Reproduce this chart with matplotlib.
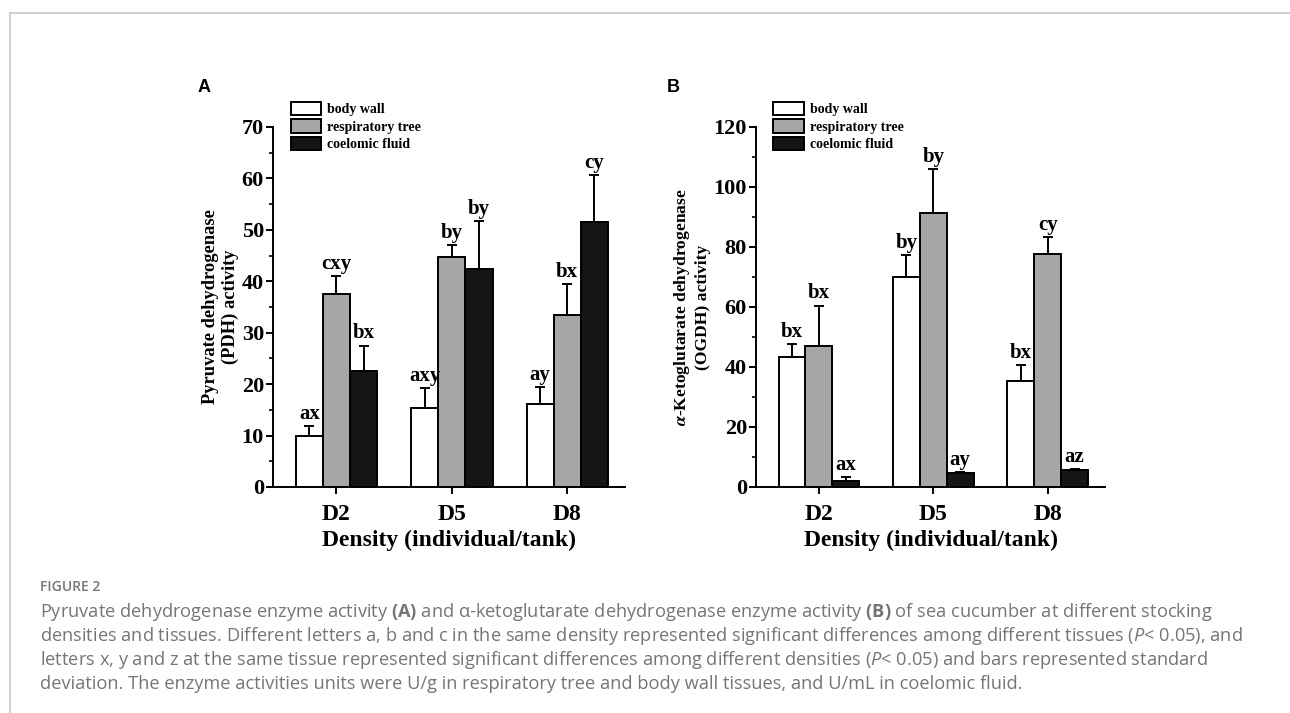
import numpy as np
import matplotlib.pyplot as plt
from matplotlib.lines import Line2D

plt.rcParams['mathtext.fontset'] = 'custom'
plt.rcParams['mathtext.rm'] = 'Open Sans'
plt.rcParams['mathtext.it'] = 'Open Sans:italic'
plt.rcParams['mathtext.bf'] = 'Open Sans:bold'

SERIF = 'Liberation Serif'

densities = ['D2', 'D5', 'D8']
tissues = ['body wall', 'respiratory tree', 'coelomic fluid']

# PDH activity (panel A), rows = tissue, cols = density
pdh_mean = [[10.0, 15.3, 16.2],
            [37.5, 44.8, 33.4],
            [22.5, 42.4, 51.6]]
pdh_sd = [[1.8, 3.9, 3.2],
          [3.5, 2.3, 6.0],
          [5.0, 9.4, 9.1]]
pdh_letters = [['ax', 'axy', 'ay'],
               ['cxy', 'by', 'bx'],
               ['bx', 'by', 'cy']]

# OGDH activity (panel B)
ogdh_mean = [[43.2, 70.0, 35.5],
             [46.9, 91.2, 77.7],
             [2.0, 4.7, 5.8]]
ogdh_sd = [[4.5, 7.2, 5.3],
           [13.6, 14.9, 5.7],
           [1.2, 0.3, 0.3]]
ogdh_letters = [['bx', 'by', 'bx'],
                ['bx', 'by', 'cy'],
                ['ax', 'ay', 'az']]

bar_colors = ['white', '#a6a6a6', '#151515']


def draw_panel(ax, means, sds, letters, ymax, ystep, ylabel, label_x, label_size):
    x = np.arange(1, len(densities) + 1)
    w = 0.235
    for i, tissue in enumerate(tissues):
        pos = x + (i - 1) * w
        m = np.array(means[i])
        e = np.array(sds[i])
        ax.bar(pos, m, width=w, color=bar_colors[i], edgecolor='black',
               linewidth=1.4, label=tissue, zorder=2)
        ax.errorbar(pos, m, yerr=[np.zeros_like(e), e], fmt='none',
                    ecolor='black', elinewidth=1.4, capsize=3.5,
                    capthick=1.4, zorder=3)
        for px, top, txt in zip(pos, m + e, letters[i]):
            ax.annotate(txt, (px, top), xytext=(0, 1.5),
                        textcoords='offset points', ha='center', va='bottom',
                        fontsize=15, fontweight='bold', family=SERIF)

    ax.set_xlim(0.45, 3.5)
    ax.set_ylim(0, ymax)
    ax.set_xticks(x)
    ax.set_xticklabels(densities, fontsize=17, fontweight='bold', family=SERIF)
    ax.set_yticks(np.arange(0, ymax + 1, ystep))
    ax.set_yticks(np.arange(ystep / 2, ymax, ystep), minor=True)
    for lab in ax.get_yticklabels():
        lab.set_fontsize(16)
        lab.set_fontweight('bold')
        lab.set_family(SERIF)
    ax.tick_params(axis='both', which='major', direction='out', length=5,
                   width=1.4, pad=1.5)
    ax.tick_params(axis='y', which='minor', direction='out', length=3,
                   width=1.2)
    ax.tick_params(axis='x', which='major', pad=7)
    for side in ['top', 'right']:
        ax.spines[side].set_visible(False)
    for side in ['left', 'bottom']:
        ax.spines[side].set_linewidth(1.4)

    ax.set_xlabel('Density (individual/tank)', fontsize=17,
                  fontweight='bold', family=SERIF, labelpad=4)
    ax.set_ylabel(ylabel, fontsize=label_size, fontweight='bold', family=SERIF,
                  linespacing=1.2, math_fontfamily='stix')
    ax.yaxis.set_label_coords(label_x, 0.5)

    ax.legend(loc='upper left', bbox_to_anchor=(0.05, 1.07), frameon=False,
              prop={'family': SERIF, 'weight': 'bold', 'size': 10},
              handlelength=2.2, handleheight=1.1, handletextpad=0.4,
              labelspacing=0.22, borderpad=0, borderaxespad=0)


fig = plt.figure(figsize=(12.9, 7.13), dpi=100)

ax_a = fig.add_axes([273 / 1290, 1 - 487 / 713, 352 / 1290, 360 / 713])
ax_b = fig.add_axes([756 / 1290, 1 - 487 / 713, 349 / 1290, 360 / 713])

draw_panel(ax_a, pdh_mean, pdh_sd, pdh_letters, 70, 10,
           'Pyruvate dehydrogenase\n(PDH) activity', -0.098, 13.3)
draw_panel(ax_b, ogdh_mean, ogdh_sd, ogdh_letters, 120, 20,
           '$\\boldsymbol{\\alpha}$-Ketoglutarate dehydrogenase\n(OGDH) activity',
           -0.13, 12.6)

fig.text(198 / 1290, 1 - 88 / 713, 'A', fontsize=13, fontweight='bold',
         family='Liberation Sans', va='center', ha='left')
fig.text(667 / 1290, 1 - 88 / 713, 'B', fontsize=13, fontweight='bold',
         family='Liberation Sans', va='center', ha='left')

# thin page frame on left and top
fig.add_artist(Line2D([9.5 / 1290, 9.5 / 1290], [0, 1 - 13 / 713],
                      color='#c8c8c8', linewidth=1.2))
fig.add_artist(Line2D([9.5 / 1290, 1], [1 - 13 / 713, 1 - 13 / 713],
                      color='#c8c8c8', linewidth=1.2))

cap_color = '#757575'
fig.text(40 / 1290, 1 - 587 / 713, 'FIGURE 2', fontsize=10, color=cap_color,
         family='Open Sans', fontweight='semibold', va='center')

caption = [
    'Pyruvate dehydrogenase enzyme activity $\\mathbf{(A)}$ and \u03b1-ketoglutarate '
    'dehydrogenase enzyme activity $\\mathbf{(B)}$ of sea cucumber at different stocking',
    'densities and tissues. Different letters a, b and c in the same density represented '
    'significant differences among different tissues ($\\mathit{P}$< 0.05), and',
    'letters x, y and z at the same tissue represented significant differences among '
    'different densities ($\\mathit{P}$< 0.05) and bars represented standard',
    'deviation. The enzyme activities units were U/g in respiratory tree and body wall '
    'tissues, and U/mL in coelomic fluid.',
]
for k, line in enumerate(caption):
    fig.text(40 / 1290, 1 - (612 + 24 * k) / 713, line, fontsize=13.15,
             color=cap_color, family='Open Sans', va='center')

fig.savefig('out.png', dpi=100)
